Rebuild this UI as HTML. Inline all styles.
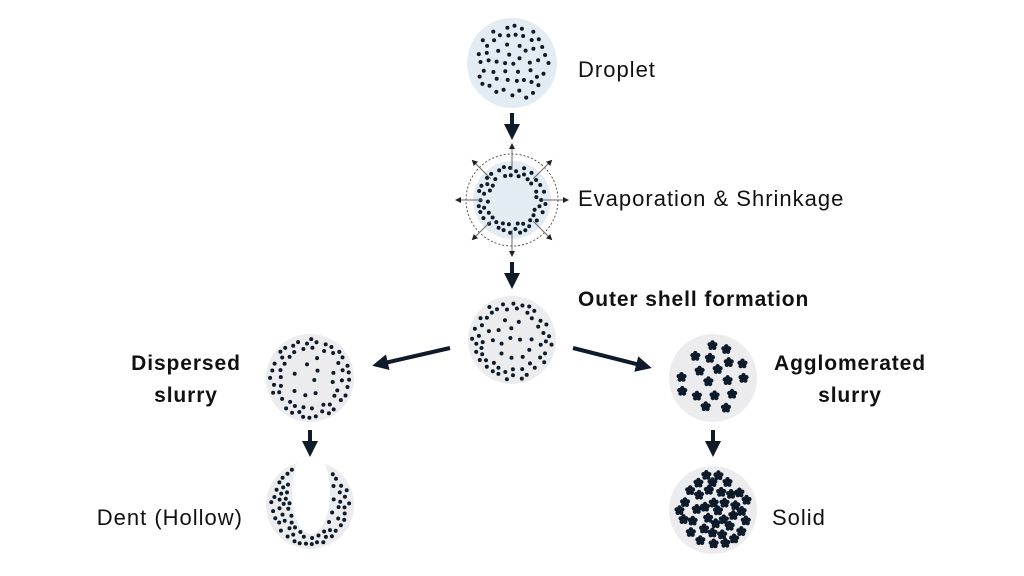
<!DOCTYPE html>
<html><head><meta charset="utf-8"><style>
html,body{margin:0;padding:0;background:#fff}
svg{display:block}
text{font-family:"Liberation Sans",sans-serif;fill:#111;font-size:22px;letter-spacing:1px}
.b{font-weight:bold;font-size:21px;letter-spacing:0.9px}
</style></head><body>
<svg id="s" width="1024" height="576" viewBox="0 0 1024 576" xmlns="http://www.w3.org/2000/svg">
<defs>
<marker id="ah" markerWidth="4" markerHeight="4" refX="2" refY="2" orient="auto" markerUnits="strokeWidth"><path d="M0,0 L4,2 L0,4 z" fill="#0d1b2a"/></marker>
<marker id="sa" markerWidth="6" markerHeight="6" refX="3" refY="3" orient="auto" markerUnits="strokeWidth"><path d="M0,0 L6,3 L0,6 z" fill="#222"/></marker>
</defs>
<circle cx="512" cy="63" r="45" fill="#e3ebf3"/>
<circle cx="512" cy="200" r="46" fill="none" stroke="#555" stroke-width="1" stroke-dasharray="2,2"/>
<circle cx="512" cy="200" r="39" fill="#e3ebf3"/>
<circle cx="512" cy="340" r="44" fill="#ececee"/>
<circle cx="310" cy="378" r="44" fill="#ececee"/>
<circle cx="713" cy="378" r="44" fill="#ececee"/>
<circle cx="310" cy="505" r="44" fill="#ececee"/>
<ellipse cx="311" cy="492" rx="19" ry="42" fill="#fff"/>
<circle cx="713" cy="510" r="44" fill="#ececee"/>
<g id="dots" fill="#0d1b2a"></g>
<g id="rays" stroke="#666" stroke-width="1"></g>
<g stroke="#0d1b2a" stroke-width="4" fill="none">
<line x1="512" y1="113" x2="512" y2="132" marker-end="url(#ah)"/>
<line x1="512" y1="262" x2="512" y2="281" marker-end="url(#ah)"/>
<line x1="310" y1="430" x2="310" y2="449" marker-end="url(#ah)"/>
<line x1="713" y1="430" x2="713" y2="449" marker-end="url(#ah)"/>
<line x1="450" y1="348" x2="380" y2="364" marker-end="url(#ah)"/>
<line x1="573" y1="348" x2="644" y2="366" marker-end="url(#ah)"/>
</g>
<text x="578" y="77">Droplet</text>
<text x="578" y="206">Evaporation &amp; Shrinkage</text>
<text x="578" y="306" class="b">Outer shell formation</text>
<text x="186" y="370" class="b" text-anchor="middle">Dispersed</text>
<text x="186" y="402" class="b" text-anchor="middle">slurry</text>
<text x="850" y="370" class="b" text-anchor="middle">Agglomerated</text>
<text x="850" y="402" class="b" text-anchor="middle">slurry</text>
<text x="243" y="525" text-anchor="end">Dent (Hollow)</text>
<text x="772" y="525">Solid</text>
</svg>
<script>
var seed=7;function R(){seed=(seed*16807)%2147483647;return seed/2147483647;}
var NS="http://www.w3.org/2000/svg",g=document.getElementById("dots"),rays=document.getElementById("rays");
var pts=[];
function ok(x,y,m){for(var i=0;i<pts.length;i++){var dx=pts[i][0]-x,dy=pts[i][1]-y;if(dx*dx+dy*dy<m*m)return false;}return true;}
function dot(x,y,r){var c=document.createElementNS(NS,"circle");c.setAttribute("cx",x.toFixed(1));c.setAttribute("cy",y.toFixed(1));c.setAttribute("r",r||2);g.appendChild(c);}
function place(fn,n,m,draw){var tries=0;for(var i=0;i<n&&tries<5000;tries++){var p=fn();if(p&&ok(p[0],p[1],m)){pts.push(p);(draw||dot)(p[0],p[1]);i++;}}}
function flower(x,y){for(var k=0;k<5;k++){var a=k*2*Math.PI/5-Math.PI/2;dot(x+3*Math.cos(a),y+3*Math.sin(a),2.2);}dot(x,y,2);}
function disk(cx,cy,r){return function(){var a=R()*6.283,d=Math.sqrt(R())*r;return[cx+d*Math.cos(a),cy+d*Math.sin(a)];};}
function ann(cx,cy,r1,r2){return function(){var a=R()*6.283,d=r1+R()*(r2-r1);return[cx+d*Math.cos(a),cy+d*Math.sin(a)];};}
place(disk(512,63,38),55,7);
place(ann(512,200,24,34),55,5.5);
place(ann(512,340,29,40),50,6);place(disk(512,340,25),14,9);
place(ann(310,378,29,40),55,6);place(disk(310,378,25),10,9);
place(function(){var p=disk(310,505,40)();var ex=(p[0]-311)/22,ey=(p[1]-492)/45;return (ex*ex+ey*ey>1)?p:null;},75,5.5);
place(disk(713,378,34),18,13,flower);
place(disk(713,510,36),38,8.5,flower);
for(var i=0;i<8;i++){var a=i*Math.PI/4,l=document.createElementNS(NS,"line");l.setAttribute("x1",512+30*Math.cos(a));l.setAttribute("y1",200+30*Math.sin(a));l.setAttribute("x2",512+54*Math.cos(a));l.setAttribute("y2",200+54*Math.sin(a));l.setAttribute("marker-end","url(#sa)");rays.appendChild(l);}
</script>
</body></html>
